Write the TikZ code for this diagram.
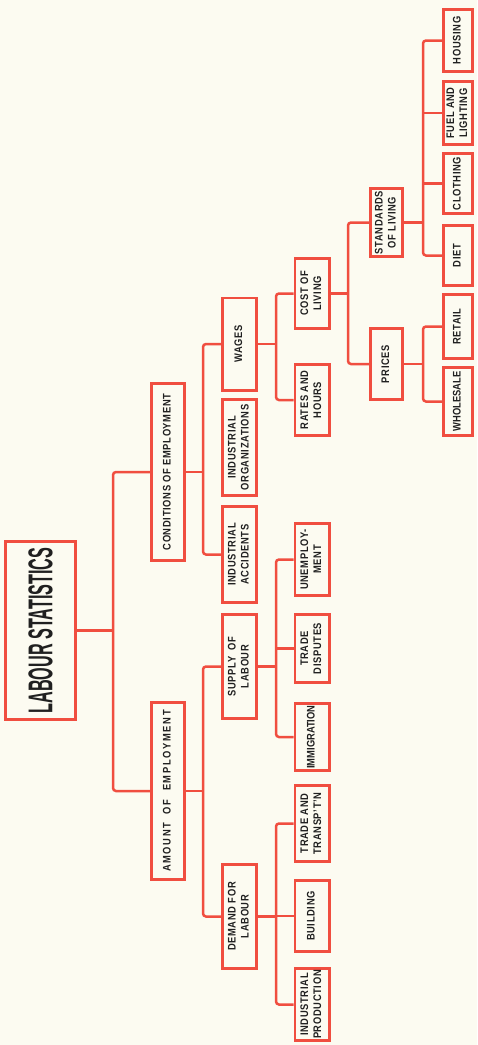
\documentclass[tikz,border=0pt]{standalone}
\usepackage{fontspec}
\setmainfont{Liberation Sans}[FakeStretch=0.85, LetterSpace=6]
\usepackage{graphicx}
\usetikzlibrary{positioning}
\definecolor{chartred}{HTML}{F04E40}
\definecolor{paper}{HTML}{FCFBF1}
\definecolor{ink}{HTML}{202020}
\newcommand{\vlabel}[1]{\rotatebox{90}{\begin{tabular}{@{}c@{}}#1\end{tabular}}}
\newcommand{\tight}{\addfontfeature{LetterSpace=0}}
\newcommand{\wide}{\addfontfeature{LetterSpace=15}}

\begin{document}
\begin{tikzpicture}[x=1pt, y=-1pt,
  box/.style={draw=chartred, line width=2.6pt, fill=paper, inner sep=0pt, text=ink,
    font=\fontsize{11}{13}\selectfont\bfseries},
  link/.style={draw=chartred, line width=2.5pt, rounded corners=3pt},
  lvlone/.style={box, minimum width=33.4},
  lvltwo/.style={box, minimum width=34.4},
  lvlthree/.style={box, minimum width=34.4},
  lvlfour/.style={box, minimum width=32.4},
  lvlfive/.style={box, minimum width=29.4}]

\fill[paper] (0,0) rectangle (477,1045);
\useasboundingbox (0,0) rectangle (477,1045);

% root
\node[box, minimum width=70.4, minimum height=178.4] (stats) at (40.5,630.5)
  {\rotatebox{90}{\resizebox{166pt}{24pt}{\tight LABOUR STATISTICS}}};

% first level
\node[lvlone, minimum height=177.4] (cond) at (168,472) {\vlabel{CONDITIONS\ OF\ EMPLOYMENT}};
\node[lvlone, minimum height=177.4] (amount) at (168,791) {\vlabel{\wide AMOUNT\ \ OF\ \ EMPLOYMENT}};

% second level
\node[lvltwo, minimum height=92.4] (wages) at (239.5,344) {\vlabel{WAGES}};
\node[lvltwo, minimum height=96.4] (indorg) at (239.5,447.5) {\vlabel{INDUSTRIAL\\ORGANIZATIONS}};
\node[lvltwo, minimum height=96.4] (indacc) at (239.5,554.5) {\vlabel{INDUSTRIAL\\ACCIDENTS}};
\node[lvltwo, minimum height=104.4] (supply) at (239.5,666.5) {\vlabel{SUPPLY\ \ OF\\LABOUR}};
\node[lvltwo, minimum height=104.4] (demand) at (239.5,916.5) {\vlabel{DEMAND FOR\\LABOUR}};

% third level
\node[lvlthree, minimum height=70.4] (cost) at (312,293.5) {\vlabel{COST OF\\LIVING}};
\node[lvlthree, minimum height=71.4] (rates) at (312,400) {\vlabel{RATES AND\\HOURS}};
\node[lvlthree, minimum height=72.4] (unemp) at (312,559.5) {\vlabel{UNEMPLOY-\\MENT}};
\node[lvlthree, minimum height=68.4] (disputes) at (312,648.5) {\vlabel{TRADE\\DISPUTES}};
\node[lvlthree, minimum height=67.4] (immig) at (312,737) {\vlabel{\tight IMMIGRATION}};
\node[lvlthree, minimum height=76.4] (trade) at (312,823.5) {\vlabel{TRADE AND\\TRANSP'T'N}};
\node[lvlthree, minimum height=71.4] (building) at (312,916) {\vlabel{BUILDING}};
\node[lvlthree, minimum height=72.4] (indprod) at (312,1004.5) {\vlabel{INDUSTRIAL\\PRODUCTION}};

% fourth level
\node[lvlfour, minimum height=68.4] (standards) at (386.5,222.5) {\vlabel{STANDARDS\\OF LIVING}};
\node[lvlfour, minimum height=71.4] (prices) at (386.5,364) {\vlabel{PRICES}};

% fifth level
\node[lvlfive, minimum height=62.4] (housing) at (458,40.5) {\vlabel{HOUSING}};
\node[lvlfive, minimum height=63.4] (fuel) at (458,113) {\vlabel{FUEL AND\\LIGHTING}};
\node[lvlfive, minimum height=60.4] (clothing) at (458,183.5) {\vlabel{CLOTHING}};
\node[lvlfive, minimum height=60.4] (diet) at (458,255.5) {\vlabel{DIET}};
\node[lvlfive, minimum height=64.4] (retail) at (458,326.5) {\vlabel{RETAIL}};
\node[lvlfive, minimum height=68.4] (wholesale) at (458,401.5) {\vlabel{\tight WHOLESALE}};

% junctions on the buses
\coordinate (j0) at (113,630.5);
\coordinate (j1) at (203,472);
\coordinate (j2) at (203,791);
\coordinate (j3) at (276,344);
\coordinate (j4) at (276,666.5);
\coordinate (j5) at (276,916.5);
\coordinate (j6) at (348,293.5);
\coordinate (j7) at (423,222.5);
\coordinate (j8) at (423,364);

% connectors
\draw[link] (stats.east) -- (j0);
\draw[link] (cond.west) -| (j0) |- (amount.west);

\draw[link] (cond.east) -- (j1);
\draw[link] (wages.west) -| (j1) |- (indacc.west);

\draw[link] (amount.east) -- (j2);
\draw[link] (supply.west) -| (j2) |- (demand.west);

\draw[link] (wages.east) -- (j3);
\draw[link] (cost.west) -| (j3) |- (rates.west);

\draw[link] (supply.east) -- (j4);
\draw[link] (unemp.west) -| (j4) |- (immig.west);
\draw[link] (disputes.west) -- (disputes.west -| j4);

\draw[link] (demand.east) -- (j5);
\draw[link] (trade.west) -| (j5) |- (indprod.west);
\draw[link] (building.west) -- (building.west -| j5);

\draw[link] (cost.east) -- (j6);
\draw[link] (standards.west) -| (j6) |- (prices.west);

\draw[link] (standards.east) -- (j7);
\draw[link] (housing.west) -| (j7) |- (diet.west);
\draw[link] (fuel.west) -- (fuel.west -| j7);
\draw[link] (clothing.west) -- (clothing.west -| j7);

\draw[link] (prices.east) -- (j8);
\draw[link] (retail.west) -| (j8) |- (wholesale.west);
\end{tikzpicture}
\end{document}
